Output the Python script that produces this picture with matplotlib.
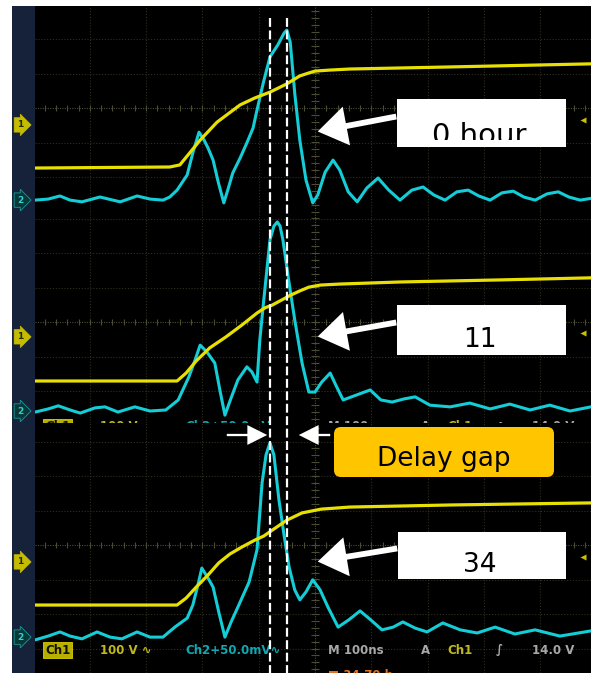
import numpy as np
import matplotlib
matplotlib.use("Agg")
import matplotlib.pyplot as plt
from matplotlib.patches import Rectangle, FancyBboxPatch, FancyArrowPatch
from matplotlib.transforms import blended_transform_factory as blend, Bbox

# ---------------- data: time in ns (100 ns/div), amplitude in screen divisions ----------------
panel_labels = ["0 hour", "11", "34"]
delay_gap_label = "Delay gap"
cursor_times_ns = [-80, -50]

p1_ch1_t = [-497, -258, -240, -227, -204, -174, -133, -107, -80, -50, -27, -12, 0, 27, 62, 240, 490]
p1_ch1_v = [-1.74, -1.71, -1.65, -1.39, -0.93, -0.41, 0.09, 0.29, 0.46, 0.70, 0.93, 1.01, 1.07, 1.10, 1.13, 1.19, 1.28]
p1_ch2_t = [-497, -474, -453, -435, -414, -382, -346, -316, -293, -270, -258, -245, -227, -217, -206,
            -197, -190, -181, -172, -162, -155, -146, -133, -121, -110, -103, -92, -80, -66, -55,
            -50, -44, -36, -27, -16, -4, 5, 18, 32, 44, 59, 75, 92, 112, 131, 151, 172, 192, 211, 231,
            252, 272, 291, 311, 332, 352, 371, 391, 412, 432, 451, 471, 490]
p1_ch2_v = [-2.67, -2.64, -2.55, -2.67, -2.72, -2.58, -2.72, -2.55, -2.64, -2.67, -2.58, -2.38, -1.94, -1.30, -0.70,
            -0.93, -1.16, -1.51, -2.14, -2.75, -2.38, -1.88, -1.45, -1.01, -0.58, -0.06, 0.72, 1.48, 1.83, 2.17,
            2.26, 1.91, 0.43, -0.93, -2.09, -2.75, -2.52, -1.86, -1.51, -1.80, -2.43, -2.72, -2.32, -2.03, -2.38,
            -2.67, -2.38, -2.29, -2.52, -2.67, -2.43, -2.38, -2.55, -2.67, -2.46, -2.41, -2.58, -2.67, -2.49,
            -2.43, -2.58, -2.67, -2.62]

p2_ch1_t = [-497, -245, -229, -211, -187, -158, -130, -103, -89, -76, -43, -27, -11, 9, 44, 151, 329, 490]
p2_ch1_v = [-1.71, -1.71, -1.48, -1.13, -0.75, -0.43, -0.09, 0.26, 0.41, 0.49, 0.78, 0.90, 1.01, 1.07, 1.10, 1.16, 1.22, 1.28]
p2_ch2_t = [-497, -474, -456, -435, -417, -391, -373, -350, -320, -293, -265, -243, -224, -213, -204,
            -192, -178, -169, -160, -149, -137, -121, -112, -103, -98, -91, -80, -73, -67, -62,
            -57, -46, -36, -23, -11, 0, 12, 27, 37, 50, 73, 98, 117, 137, 158, 178, 204, 240, 275, 311,
            346, 382, 417, 453, 490]
p2_ch2_v = [-2.61, -2.52, -2.43, -2.55, -2.64, -2.49, -2.46, -2.61, -2.46, -2.58, -2.55, -2.26, -1.59, -1.10, -0.67,
            -0.87, -1.19, -1.97, -2.70, -2.20, -1.68, -1.30, -1.45, -1.74, -0.52, 0.64, 2.38, 2.78, 2.90, 2.78,
            2.38, 1.13, 0.06, -1.19, -2.03, -2.03, -1.74, -1.48, -1.83, -2.26, -2.12, -1.97, -2.26, -2.32, -2.23,
            -2.17, -2.41, -2.46, -2.35, -2.52, -2.38, -2.55, -2.41, -2.58, -2.46]

p3_ch1_t = [-497, -245, -229, -211, -190, -171, -151, -130, -107, -91, -76, -50, -23, 11, 62, 240, 490]
p3_ch1_v = [-1.74, -1.74, -1.54, -1.22, -0.87, -0.52, -0.26, -0.06, 0.14, 0.26, 0.43, 0.72, 0.93, 1.04, 1.10, 1.16, 1.22]
p3_ch2_t = [-497, -474, -453, -435, -414, -387, -364, -343, -316, -293, -270, -249, -227, -217, -208,
            -201, -190, -181, -171, -160, -149, -137, -117, -103, -94, -87, -80, -73, -64, -55,
            -46, -36, -27, -16, -4, 9, 23, 41, 60, 80, 99, 119, 139, 156, 178, 199, 227, 258, 288, 320,
            355, 391, 435, 490]
p3_ch2_v = [-2.75, -2.64, -2.52, -2.64, -2.72, -2.52, -2.67, -2.72, -2.52, -2.67, -2.67, -2.38, -2.12, -1.74, -1.16,
            -0.67, -0.96, -1.22, -1.94, -2.67, -2.23, -1.80, -1.07, -0.14, 1.80, 2.61, 2.96, 2.61, 1.30, 0.29,
            -0.64, -1.30, -1.59, -1.36, -1.01, -1.30, -1.80, -2.38, -2.17, -1.91, -2.17, -2.46, -2.38, -2.23, -2.41,
            -2.52, -2.26, -2.46, -2.55, -2.38, -2.58, -2.46, -2.64, -2.49]

ch1_tag_v = [-0.49, -0.43, -0.49]
ch2_tag_v = [-2.67, -2.58, -2.67]
trigger_v = [-0.35, -0.32, -0.35]

status_items = ["Ch1", "100 V \u223f", "Ch2+50.0mV\u223f", "M 100ns", "A", "Ch1", "\u222b", "14.0 V"]
status_kind = ["box", "y", "c", "w", "w", "y", "w", "w"]

ch1_traces = [(p1_ch1_t, p1_ch1_v), (p2_ch1_t, p2_ch1_v), (p3_ch1_t, p3_ch1_v)]
ch2_traces = [(p1_ch2_t, p1_ch2_v), (p2_ch2_t, p2_ch2_v), (p3_ch2_t, p3_ch2_v)]

# ---------------- layout / style ----------------
W, H = 591, 673
YEL = "#e8e000"
CYA = "#14cdd6"
GRID = "#2f2f1e"
CGRID = "#4c4c32"
status_col = {"y": "#c0b820", "c": "#12a8b2", "w": "#a8a8a8"}
status_xfrac = [0.010, 0.117, 0.270, 0.527, 0.694, 0.741, 0.829, 0.894]

fig = plt.figure(figsize=(W / 100, H / 100), dpi=100)
fig.patch.set_facecolor("white")

bg = fig.add_axes([0, 0, 1, 1], zorder=0)
bg.set_xlim(0, W); bg.set_ylim(H, 0); bg.axis("off")
bg.add_patch(Rectangle((12, 6), W - 12, H - 6, fc="black", ec="none"))
bg.add_patch(Rectangle((12, 6), 23, H - 6, fc="#16223a", ec="none"))

# panels: (top px, bottom px, center px)
panel_px = [(6, 211, 108), (211, 423, 322), (423, 673, 545)]
PXDIV = 34.5
x0px, tpx0, pxns = 35, 315, 0.563
xlim = ((x0px - tpx0) / pxns, (W - tpx0) / pxns)

ov = fig.add_axes([0, 0, 1, 1], zorder=5)
ov.set_xlim(0, W); ov.set_ylim(H, 0); ov.axis("off")
ov.patch.set_alpha(0)

axes = []
for i, (top, bot, cen) in enumerate(panel_px):
    ax = fig.add_axes([x0px / W, 1 - bot / H, (W - x0px) / W, (bot - top) / H], zorder=1 + i * 0.1)
    ax.set_xlim(*xlim)
    ylo, yhi = (cen - bot) / PXDIV, (cen - top) / PXDIV
    ax.set_ylim(ylo, yhi)
    ax.axis("off")
    axes.append(ax)

    # graticule
    for tt in range(-400, 401, 100):
        if tt != 0:
            ax.axvline(tt, color=GRID, lw=0.8, ls=(0, (1, 1.6)))
    for vv in range(int(np.floor(ylo)), int(np.ceil(yhi)) + 1):
        if vv != 0:
            ax.axhline(vv, color=GRID, lw=0.8, ls=(0, (1, 1.6)))
    ax.axvline(0, color=CGRID, lw=0.8, ls=(0, (1, 1.2)))
    ax.axhline(0, color=CGRID, lw=0.8, ls=(0, (1, 1.2)))
    ax.vlines(np.arange(-480, 481, 20), -0.09, 0.09, color=CGRID, lw=0.8)
    ax.hlines(np.arange(-3.6, 3.61, 0.2), -7, 7, color=CGRID, lw=0.8)

    # traces
    t2, v2 = ch2_traces[i]
    t1, v1 = ch1_traces[i]
    ax.plot(t2, v2, color=CYA, lw=2.2, solid_joinstyle="round", solid_capstyle="round", zorder=3)
    ax.plot(t1, v1, color=YEL, lw=2.3, solid_joinstyle="round", solid_capstyle="round", zorder=4)

    # trigger level marker on the right
    ax.plot([0.986], [trigger_v[i]], marker="<", ms=5, color="#c8c000", mec="none",
            transform=blend(ax.transAxes, ax.transData), clip_on=False)

    # channel tags in the left strip
    tr = blend(ov.transData, ax.transData)
    ov.text(20, ch1_tag_v[i], "1", transform=tr, fontsize=6.5, fontweight="bold", color="#2a2a00",
            ha="center", va="center",
            bbox=dict(boxstyle="rarrow,pad=0.3", fc="#c4bc00", ec="#c4bc00", lw=0.5))
    ov.text(20, ch2_tag_v[i], "2", transform=tr, fontsize=6.5, fontweight="bold", color="#30d0d0",
            ha="center", va="center",
            bbox=dict(boxstyle="rarrow,pad=0.3", fc="#083838", ec="#1a9a9a", lw=0.6))

# status lines (panel 2 bottom, mostly cut; panel 3 full)
def status_line(ax, v):
    tr = blend(ax.transAxes, ax.transData)
    for s, k, xf in zip(status_items, status_kind, status_xfrac):
        if k == "box":
            ax.text(xf + 0.008, v, s, transform=tr, fontsize=8.5, fontweight="bold", color="#111100",
                    ha="left", va="center", clip_on=True,
                    bbox=dict(boxstyle="square,pad=0.15", fc="#b8b000", ec="#d8d000", lw=0.6))
        else:
            ax.text(xf, v, s, transform=tr, fontsize=8.5, fontweight="bold", color=status_col[k],
                    ha="left", va="center", clip_on=True)

status_line(axes[1], (322 - 427) / PXDIV)
status_line(axes[2], (545 - 650) / PXDIV)
axes[2].text(0.527, (545 - 675) / PXDIV, "\u25a0 34.70 h", transform=blend(axes[2].transAxes, axes[2].transData),
             fontsize=8.5, fontweight="bold", color="#e07020", ha="left", va="center", clip_on=True)

# cursor (dashed) lines spanning all panels
trc = blend(axes[0].transData, ov.transData)
for tc in cursor_times_ns:
    ov.plot([tc, tc], [18, H], transform=trc, color="white", lw=1.6, ls=(0, (4, 1.6)), clip_on=False, zorder=6)

# annotation boxes and arrows
label_boxes = [(397, 99, 169, 48), (397, 305, 169, 50), (398, 532, 168, 47)]
arrow_px = [((397, 116), (315, 132)), ((397, 322), (315, 337)), ((398, 548), (315, 562))]
label_baseline = [144, 347, 572]
label_size = [21, 19, 19]
for i in range(3):
    x, y, w, h = label_boxes[i]
    ov.add_patch(Rectangle((x, y), w, h, fc="white", ec="none", zorder=8))
    (xa, ya), (xb, yb) = arrow_px[i]
    ov.add_patch(FancyArrowPatch((xa + 2, ya), (xb, yb),
                                 arrowstyle="simple,head_length=1.0,head_width=1.35,tail_width=0.2",
                                 mutation_scale=21, fc="white", ec="none", zorder=7))
    txt = ov.text(x + w / 2 - 2, label_baseline[i], panel_labels[i], fontsize=label_size[i], color="black",
                  ha="center", va="baseline", zorder=9)
    if i == 0:
        # the reference shows this label cut off at its lower part
        txt.set_clip_on(True)
        txt.set_clip_path(None)
        txt.set_clip_box(Bbox.from_extents(x, H - 140, x + w, H - y))

# delay gap
ov.add_patch(FancyBboxPatch((334, 427), 220, 50, boxstyle="round,pad=0,rounding_size=7",
                            fc="#ffc600", ec="none", zorder=8))
ov.text(444, 466, delay_gap_label, fontsize=19, color="black", ha="center", va="baseline", zorder=9)
ov.add_patch(FancyArrowPatch((224, 435), (270, 435),
                             arrowstyle="simple,head_length=1.3,head_width=1.3,tail_width=0.15",
                             mutation_scale=11, fc="white", ec="none", zorder=7))
ov.add_patch(FancyArrowPatch((333, 435), (296, 435),
                             arrowstyle="simple,head_length=1.3,head_width=1.3,tail_width=0.15",
                             mutation_scale=11, fc="white", ec="none", zorder=7))

fig.savefig("out.png", dpi=100, facecolor="white")
